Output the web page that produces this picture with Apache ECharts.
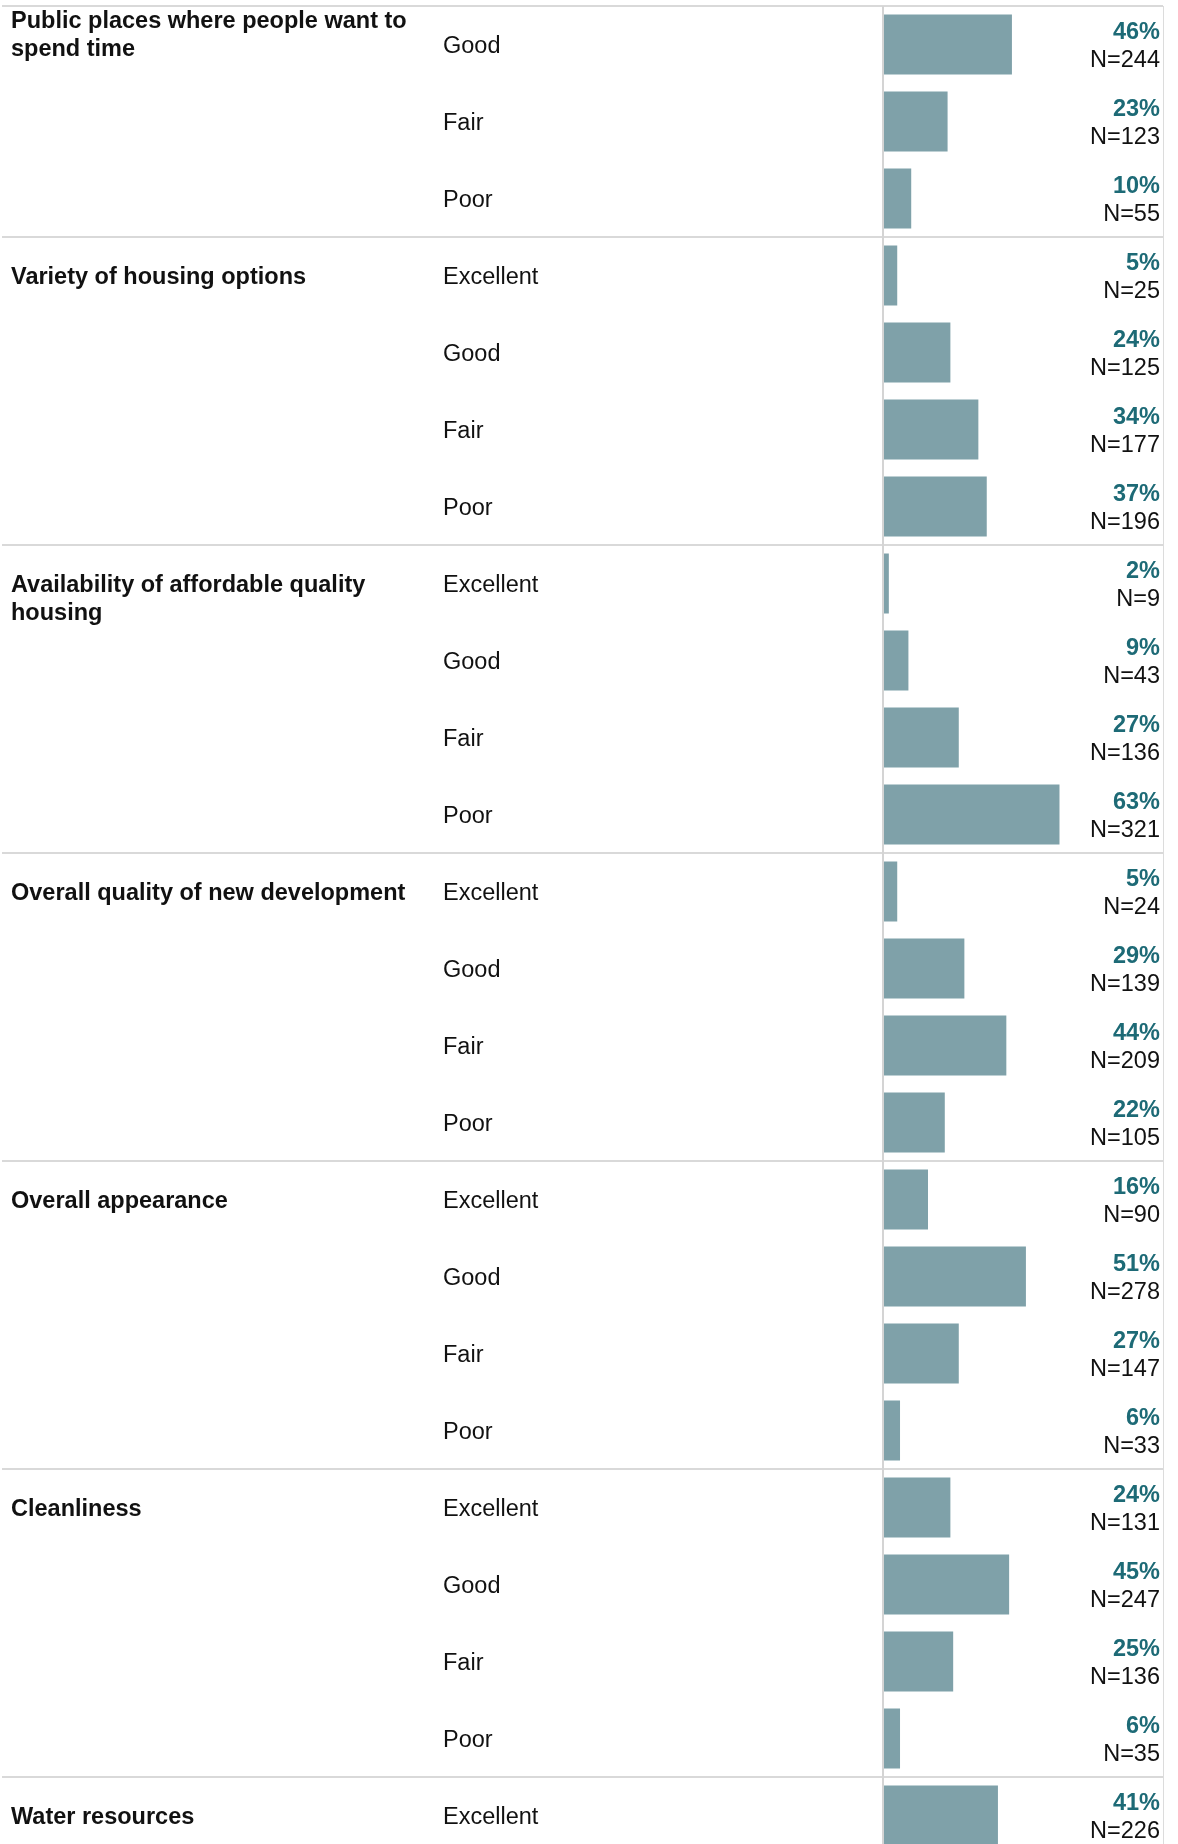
<!DOCTYPE html>
<html>
<head>
<meta charset="utf-8">
<title>Ratings</title>
<script src="https://cdn.jsdelivr.net/npm/echarts@6.0.0/dist/echarts.min.js"></script>
<style>
  html, body {
    margin: 0;
    padding: 0;
    background: #fff;
    overflow: hidden;
  }
  /* a bit taller than the window: the last row is cut off like in the original view */
  #ratings-bar {
    width: 1178px;
    height: 1860px;
  }
</style>
</head>
<body>
<div id="ratings-bar"></div>
<script>
// one entry per row, top to bottom
const ratings = [
  'Good', 'Fair', 'Poor',
  'Excellent', 'Good', 'Fair', 'Poor',
  'Excellent', 'Good', 'Fair', 'Poor',
  'Excellent', 'Good', 'Fair', 'Poor',
  'Excellent', 'Good', 'Fair', 'Poor',
  'Excellent', 'Good', 'Fair', 'Poor',
  'Excellent'
]
const percents = [
  46, 23, 10,
  5, 24, 34, 37,
  2, 9, 27, 63,
  5, 29, 44, 22,
  16, 51, 27, 6,
  24, 45, 25, 6,
  41
]
const counts = [
  244, 123, 55,
  25, 125, 177, 196,
  9, 43, 136, 321,
  24, 139, 209, 105,
  90, 278, 147, 33,
  131, 247, 136, 35,
  226
]
// group titles and the row each one starts on
const groupTitles = [
  'Public places where people want to\nspend time',
  'Variety of housing options',
  'Availability of affordable quality\nhousing',
  'Overall quality of new development',
  'Overall appearance',
  'Cleanliness',
  'Water resources'
]
const groupStarts = [0, 3, 7, 11, 15, 19, 23]

const FONT = "'Liberation Sans', Arial, Helvetica, sans-serif"
const ROW = 77

// group title column, only the first row of a group gets text
const groupAxisData = ratings.map((r, i) => {
  const g = groupStarts.indexOf(i)
  return g < 0 ? '' : groupTitles[g]
})

function groupLabel(value, index) {
  if (!value) return ''
  const lines = value.split('\n').map(s => '{t|' + s + '}')
  if (lines.length === 1) return lines[0]
  if (index === 0) {
    // pinned header of the first (scrolled) group sits near the top of its rows
    return lines.join('\n') + '\n{s0| }'
  }
  // first line on the row centre, the rest below it
  return '{s| }\n' + lines.join('\n')
}

let myChart = echarts.init(document.getElementById('ratings-bar'))
myChart.setOption({
  animation: false,
  backgroundColor: '#fff',
  textStyle: { fontFamily: FONT },
  grid: {
    left: 2,
    right: 15,
    top: 6,
    height: ROW * ratings.length,
    outerBoundsMode: 'none'
  },
  xAxis: {
    type: 'value',
    min: -315,
    max: 100,
    show: false
  },
  yAxis: [
    {
      // rating labels (Excellent / Good / Fair / Poor)
      type: 'category',
      inverse: true,
      data: ratings,
      axisLine: { show: false, onZero: false },
      axisTick: { show: false },
      splitLine: { show: false },
      axisLabel: {
        inside: true,
        interval: 0,
        margin: 441,
        padding: [4, 0, 0, 0],
        formatter: (v) => '{r|' + v + '}',
        rich: {
          r: {
            fontFamily: FONT,
            fontSize: 23.5,
            lineHeight: 28,
            color: '#111'
          }
        }
      }
    },
    {
      // group titles + separator lines
      type: 'category',
      inverse: true,
      position: 'left',
      data: groupAxisData,
      axisLine: { show: false, onZero: false },
      axisTick: { show: false },
      axisLabel: {
        inside: true,
        interval: 0,
        margin: 9,
        padding: [4, 0, 0, 0],
        formatter: groupLabel,
        rich: {
          t: {
            fontFamily: FONT,
            fontSize: 23.5,
            fontWeight: 'bold',
            lineHeight: 28,
            color: '#111'
          },
          s: { fontSize: 10, lineHeight: 28 },
          s0: { fontSize: 10, lineHeight: 21 }
        }
      },
      splitLine: {
        show: true,
        interval: (index) => groupStarts.indexOf(index) >= 0,
        lineStyle: { color: '#d9d9d9', width: 2 }
      }
    }
  ],
  series: [
    {
      type: 'bar',
      yAxisIndex: 0,
      data: percents,
      barWidth: 60,
      itemStyle: { color: '#7fa1a9' },
      label: {
        show: true,
        formatter: (p) => '{p|' + percents[p.dataIndex] + '%}\n{n|N=' + counts[p.dataIndex] + '}',
        rich: {
          p: {
            fontFamily: FONT,
            fontSize: 23.5,
            fontWeight: 'bold',
            color: '#1d6a76',
            lineHeight: 28,
            align: 'right'
          },
          n: {
            fontFamily: FONT,
            fontSize: 23.5,
            color: '#111',
            lineHeight: 28,
            align: 'right'
          }
        }
      },
      labelLayout: { x: 1160, dy: 2, align: 'right', verticalAlign: 'middle' },
      markLine: {
        silent: true,
        symbol: 'none',
        label: { show: false },
        data: [
          { xAxis: 0, lineStyle: { color: '#d4d4d4', width: 2, type: 'solid' } },
          { xAxis: 100, lineStyle: { color: '#dcdcdc', width: 1, type: 'solid' } }
        ]
      }
    }
  ]
})
</script>
</body>
</html>
